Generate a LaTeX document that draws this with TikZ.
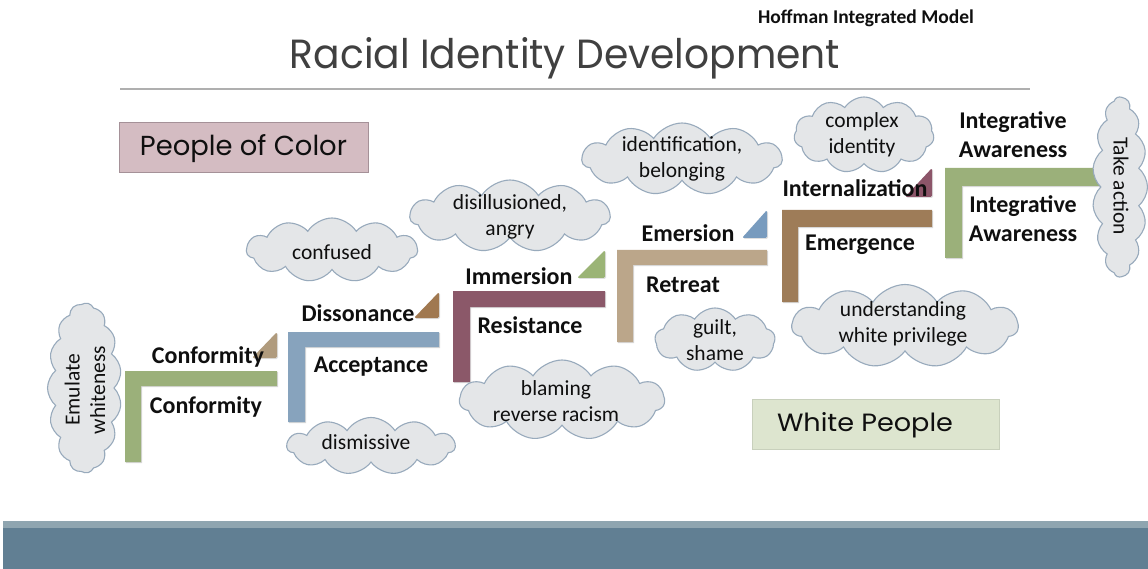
\documentclass[tikz,border=0pt]{standalone}
\usepackage{fontspec}
\setmainfont{Carlito}
\newfontfamily\gothic{Poppins}
\usetikzlibrary{shapes.symbols,shadows}

\definecolor{stepgreen}{RGB}{155,176,122}
\definecolor{stepblue}{RGB}{135,163,189}
\definecolor{stepmaroon}{RGB}{139,88,105}
\definecolor{steptan}{RGB}{187,166,138}
\definecolor{stepbrown}{RGB}{158,124,88}
\definecolor{tritan}{RGB}{176,155,125}
\definecolor{tribrown}{RGB}{160,120,80}
\definecolor{trigreen}{RGB}{155,180,118}
\definecolor{triblue}{RGB}{120,155,190}
\definecolor{trimaroon}{RGB}{140,85,105}
\definecolor{cloudfill}{RGB}{228,230,232}
\definecolor{cloudline}{RGB}{152,170,188}
\definecolor{pocfill}{RGB}{212,188,194}
\definecolor{pocline}{RGB}{165,145,152}
\definecolor{wpfill}{RGB}{221,229,207}
\definecolor{wpline}{RGB}{200,208,188}
\definecolor{bandlight}{RGB}{143,165,176}
\definecolor{banddark}{RGB}{97,127,147}
\definecolor{rulegray}{RGB}{175,175,175}
\definecolor{titlegray}{RGB}{64,64,64}
\definecolor{labelink}{RGB}{15,15,15}

\begin{document}
\begin{tikzpicture}[x=1pt,y=-1pt,
  stair/.style={fill=#1, drop shadow={shadow xshift=1.2pt, shadow yshift=-1.2pt, opacity=0.3}},
  corner/.style={fill=#1, rounded corners=1.5pt, drop shadow={shadow xshift=1pt, shadow yshift=-1pt, opacity=0.25}},
  cloudy/.style={cloud, cloud puffs=11, cloud puff arc=115, cloud ignores aspect,
    draw=cloudline, fill=cloudfill, line width=1.1pt, inner sep=0pt},
  cloudtext/.style={font=\fontsize{21.5}{25.5}\selectfont, text=labelink, align=center, inner sep=0pt},
  stagetext/.style={font=\bfseries\fontsize{24}{29}\selectfont, text=labelink, align=center, inner sep=0pt},
  groupbox/.style={draw=#1, line width=1pt, inner sep=0pt}
]
\useasboundingbox (0,0) rectangle (1148,569);
\fill[white] (0,0) rectangle (1148,569);

% heading
\node[font=\bfseries\fontsize{19.5}{23}\selectfont, text=labelink, inner sep=0pt] (model) at (866,18) {Hoffman Integrated Model};
\node[inner sep=0pt, text=titlegray] (title) at (565,58) {\resizebox{550pt}{31pt}{\gothic Racial Identity Development}};
\draw[rulegray, line width=1.5pt] (120,89) -- (1030,89);

% group boxes
\node[groupbox=pocline, fill=pocfill, minimum width=249pt, minimum height=50pt] (poc) at (243.5,148) {};
\node[inner sep=0pt, text=labelink] (poctext) at (243.5,149) {\resizebox{207pt}{21pt}{\gothic People of Color}};
\node[groupbox=wpline, fill=wpfill, minimum width=247pt, minimum height=50pt] (wp) at (875.5,424) {};
\node[inner sep=0pt, text=labelink] (wptext) at (865,425) {\resizebox{176pt}{19pt}{\gothic White People}};

% staircase brackets
\fill[stair=stepgreen] (125,371) -- (277,371) -- (277,386) -- (141,386) -- (141,462) -- (125,462) -- cycle;
\fill[stair=stepblue] (288,332) -- (439,332) -- (439,347) -- (305,347) -- (305,422) -- (288,422) -- cycle;
\fill[stair=stepmaroon] (453,291) -- (605,291) -- (605,307) -- (470,307) -- (470,382) -- (453,382) -- cycle;
\fill[stair=steptan] (617,250) -- (767,250) -- (767,265) -- (633,265) -- (633,342) -- (617,342) -- cycle;
\fill[stair=stepbrown] (782,210) -- (932,210) -- (932,227) -- (798,227) -- (798,302) -- (782,302) -- cycle;
\fill[stair=stepgreen] (945,168) -- (1100,168) -- (1100,186) -- (962,186) -- (962,258) -- (945,258) -- cycle;

% corner wedges
\fill[corner=tritan] (277,332) -- (277,358) -- (252,358) -- cycle;
\fill[corner=tribrown] (439,292) -- (439,318) -- (414,318) -- cycle;
\fill[corner=trigreen] (605,250) -- (605,278) -- (577,278) -- cycle;
\fill[corner=triblue] (767,210) -- (767,238) -- (742,238) -- cycle;
\fill[corner=trimaroon] (932,168) -- (932,197) -- (905,197) -- cycle;

% stage names
\node[stagetext] (s1a) at (208,357) {Conformity};
\node[stagetext] (s1b) at (206,407) {Conformity};
\node[stagetext] (s2a) at (358,313) {Dissonance};
\node[stagetext] (s2b) at (371,367) {Acceptance};
\node[stagetext] (s3a) at (519,276) {Immersion};
\node[stagetext] (s3b) at (530,325) {Resistance};
\node[stagetext] (s4a) at (688,233) {Emersion};
\node[stagetext] (s4b) at (683,285) {Retreat};
\node[stagetext] (s5a) at (855,188) {Internalization};
\node[stagetext] (s5b) at (860,245) {Emergence};
\node[stagetext] (s6a) at (1013,135) {Integrative\\Awareness};
\node[stagetext] (s6b) at (1023,219) {Integrative\\Awareness};

% thought clouds
\node[cloudy, rotate=90, cloud puffs=15, cloud puff arc=100, minimum width=170pt, minimum height=74pt] (emul) at (84.5,388) {};
\node[cloudtext, rotate=90] (emultext) at (85,390) {Emulate\\whiteness};
\node[cloudy, rotate=-90, cloud puffs=15, cloud puff arc=100, minimum width=180pt, minimum height=55pt] (act) at (1120,187) {};
\node[cloudtext, rotate=-90] (acttext) at (1121,186) {Take action};
\node[cloudy, minimum width=171pt, minimum height=64pt] (conf) at (332,250) {};
\node[cloudtext] (conftext) at (332,252) {confused};
\node[cloudy, minimum width=200pt, minimum height=72pt] (dis) at (510,216) {};
\node[cloudtext] (distext) at (510,217) {disillusioned,\\angry};
\node[cloudy, minimum width=200pt, minimum height=72pt] (ident) at (682,159) {};
\node[cloudtext] (identtext) at (682,159) {identification,\\belonging};
\node[cloudy, minimum width=140pt, minimum height=76pt] (cplx) at (864,135) {};
\node[cloudtext] (cplxtext) at (862,135) {complex\\identity};
\node[cloudy, cloud puffs=9, minimum width=120pt, minimum height=64pt] (guilt) at (715,340) {};
\node[cloudtext] (guilttext) at (715,340) {guilt,\\shame};
\node[cloudy, minimum width=226pt, minimum height=83pt] (priv) at (905,326) {};
\node[cloudtext] (privtext) at (903,324) {understanding\\white privilege};
\node[cloudy, minimum width=205pt, minimum height=80pt] (blame) at (562,400) {};
\node[cloudtext] (blametext) at (556,401) {blaming\\reverse racism};
\node[cloudy, minimum width=168pt, minimum height=57pt] (dism) at (371,446) {};
\node[cloudtext] (dismtext) at (366,442) {dismissive};

% footer band
\fill[bandlight] (3,521) rectangle (1148,528);
\fill[banddark] (3,528) rectangle (1148,569);
\end{tikzpicture}
\end{document}
